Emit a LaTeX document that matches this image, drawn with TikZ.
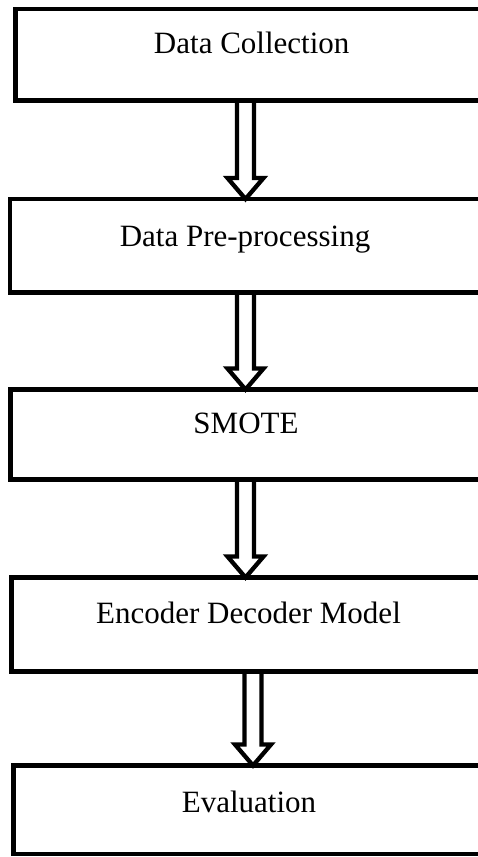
\documentclass[tikz,border=0pt]{standalone}
\usepackage{fontspec}
\setmainfont{Liberation Serif}
\usetikzlibrary{calc}
\newcommand{\hollowarrow}[3]{%
  \draw[blockarr] let \p1=(#2.south), \p2=(#3.north) in
    (#1pt-8.5pt,\y1) -- (#1pt-8.5pt,\y2+21pt) -- (#1pt-18pt,\y2+21pt) -- (#1pt,\y2)
    -- (#1pt+18pt,\y2+21pt) -- (#1pt+8.5pt,\y2+21pt) -- (#1pt+8.5pt,\y1);}
\begin{document}
\begin{tikzpicture}[x=1pt,y=-1pt,
  box/.style={draw, rectangle, line width=4.5pt, outer sep=0pt, inner sep=0pt, anchor=north west},
  lbl/.style={font=\fontsize{31}{36}\selectfont, anchor=base, inner sep=0pt},
  blockarr/.style={draw, line width=4.3pt, miter limit=10}]
\useasboundingbox (0,0) rectangle (478,857);
\clip (0,0) rectangle (478,857);
\fill[white] (0,0) rectangle (478,857);

\node[box, minimum width=484.5pt, minimum height=91.5pt] (b1) at (15.5,9) {};
\node[box, minimum width=490pt,   minimum height=93.5pt] (b2) at (10,199) {};
\node[box, minimum width=489.5pt, minimum height=90pt]   (b3) at (10.5,389.5) {};
\node[box, minimum width=488.5pt, minimum height=94pt]   (b4) at (11.5,577.5) {};
\node[box, minimum width=486.5pt, minimum height=88.5pt] (b5) at (13.5,765.5) {};

\node[lbl] (t1) at (251.7,53.5) {Data Collection};
\node[lbl] (t2) at (245,246) {Data Pre-processing};
\node[lbl] (t3) at (246,433) {SMOTE};
\node[lbl] (t4) at (248.5,623) {Encoder Decoder Model};
\node[lbl] (t5) at (249,812) {Evaluation};

\hollowarrow{245.5}{b1}{b2}
\hollowarrow{245.5}{b2}{b3}
\hollowarrow{245.5}{b3}{b4}
\hollowarrow{253}{b4}{b5}
\end{tikzpicture}
\end{document}
